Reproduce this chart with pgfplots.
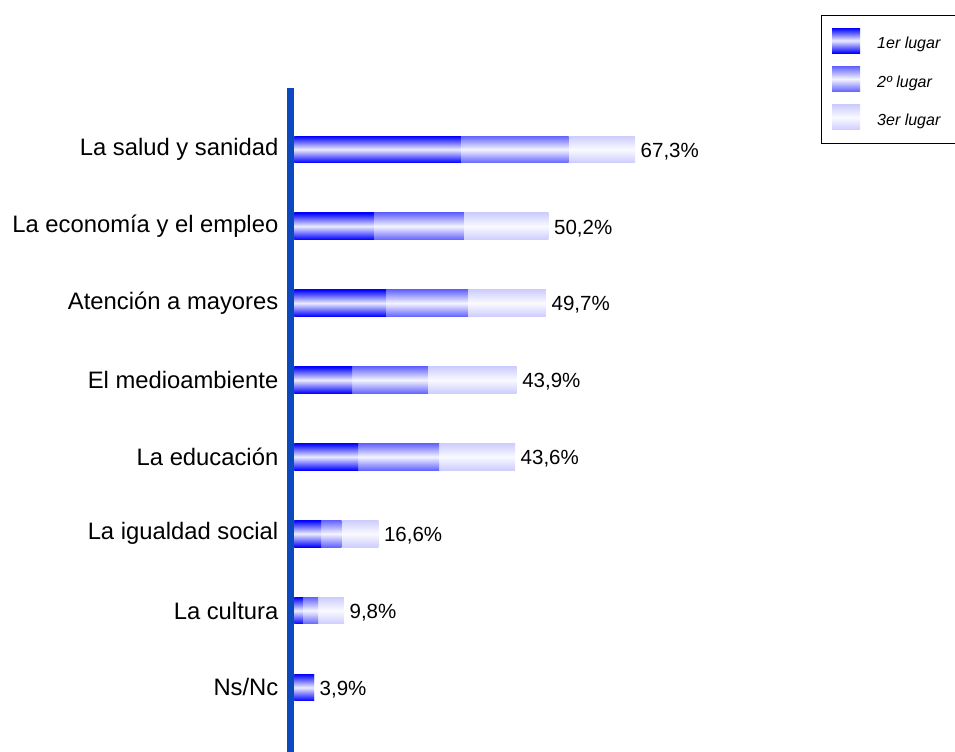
\documentclass[border=0pt]{standalone}
\usepackage{pgfplots}
\usepackage{pgfplotstable}
\pgfplotsset{compat=1.18}
\usepackage{fontspec}
\setmainfont{Liberation Sans}
\definecolor{cA}{RGB}{0,0,255}
\definecolor{cAm}{RGB}{236,236,255}
\definecolor{cB}{RGB}{100,100,255}
\definecolor{cBm}{RGB}{245,245,255}
\definecolor{cC}{RGB}{205,205,255}
\definecolor{cCm}{RGB}{250,250,255}
\definecolor{axblue}{RGB}{12,72,190}
\pgfplotsset{
  sw/.style={legend image code/.code={\path[##1,draw=none] (0bp,-9.1bp) rectangle (28bp,15.9bp);}},
  gA/.style={draw=none, top color=cA, bottom color=cA, middle color=cAm},
  gB/.style={draw=none, top color=cB, bottom color=cB, middle color=cBm},
  gC/.style={draw=none, top color=cC, bottom color=cC, middle color=cCm},
}
% y: row position, s1: 1er lugar, s2: 2o lugar, tot: total (1er+2o+3er)
\pgfplotstableread{
y s1 s2 tot
0 3.9 0.0 3.9
1 1.7 3.0 9.8
2 5.3 4.0 16.6
3 12.6 16.0 43.6
4 11.4 15.0 43.9
5 18.1 16.2 49.7
6 15.7 17.8 50.2
7 32.9 21.3 67.3
}\data
\begin{document}
\begin{tikzpicture}
\useasboundingbox (0,0) rectangle (955bp,752bp);
\begin{axis}[
  at={(290.5bp,0bp)}, anchor=south west,
  scale only axis, width=510.1bp, height=664.1bp,
  xmin=-0.75, xmax=100, ymin=-0.84, ymax=7.8,
  xbar, bar width=26.7bp, bar shift=0pt,
  axis x line=none, axis y line*=left,
  y axis line style={line width=7.3bp, color=axblue},
  ytick={0,...,7},
  yticklabels={Ns/Nc, La cultura, La igualdad social, La educación, El medioambiente, Atención a mayores, La economía y el empleo, La salud y sanidad},
  yticklabel style={font=\fontsize{23.8bp}{28bp}\selectfont, inner sep=0pt, xshift=-12bp},
  major tick length=0pt,
  legend cell align=left,
  legend style={at={(1.0404,1.1105)}, anchor=north west, draw=black, line width=1bp,
    inner xsep=10.5bp, inner ysep=13bp, row sep=13bp,
    nodes={inner sep=3bp},
    font=\fontsize{16bp}{19bp}\selectfont\itshape,
    /tikz/every odd column/.append style={column sep=14bp}},
]
\addlegendimage{gA, sw}
\addlegendentry{1er lugar\hspace*{14bp}}
\addlegendimage{gB, sw}
\addlegendentry{2º lugar}
\addlegendimage{gC, sw}
\addlegendentry{3er lugar}
\pgfplotsinvokeforeach{0,...,7}{
  \addplot[gC, forget plot, point meta=x, restrict y to domain=#1:#1,
    nodes near coords={\pgfmathprintnumber[assume math mode=true, use comma, fixed, fixed zerofill, precision=1]{\pgfplotspointmeta}\%},
    nodes near coords style={anchor=west, inner sep=0pt, xshift=5.5bp, yshift=-2bp, text=black, font=\fontsize{20.5bp}{24bp}\selectfont}]
    table[x=tot, y=y] {\data};
  \addplot[gB, forget plot, restrict y to domain=#1:#1]
    table[x expr=\thisrow{s1}+\thisrow{s2}, y=y] {\data};
  \addplot[gA, forget plot, restrict y to domain=#1:#1]
    table[x=s1, y=y] {\data};
}
\end{axis}
\end{tikzpicture}
\end{document}
